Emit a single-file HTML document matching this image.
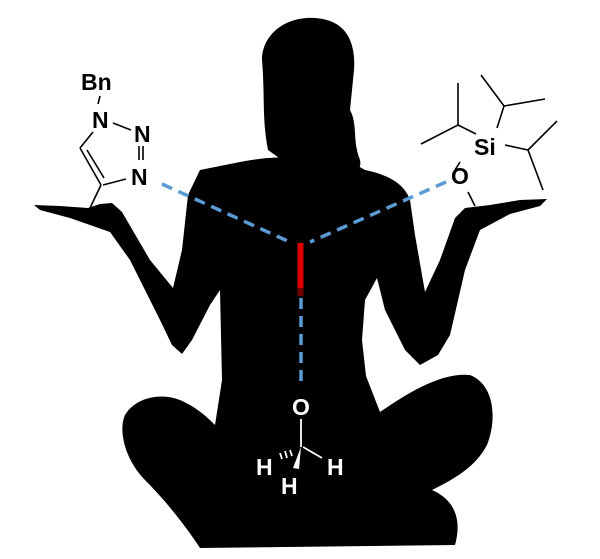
<!DOCTYPE html>
<html><head><style>html,body{margin:0;padding:0;background:#fff}svg{display:block}</style></head>
<body>
<svg width="600" height="559" viewBox="0 0 600 559" xmlns="http://www.w3.org/2000/svg">
<g fill="#000" stroke="none">
<!-- head & neck -->
<path d="M262,60 C262,35 285,16 315,18 C345,20 356,40 354,70 L350,110 C358,125 352,140 360,160 C362,170 355,175 345,170 L320,160 L282,160 L268,150 C262,120 265,95 262,60 Z"/>
<!-- body outline -->
<path d="M240,162 C270,156 285,158 300,157 C330,157 350,160 365,170 C390,175 405,185 410,200 L415,235 L425,292 L440,260 L455,218 L465,208 L490,205 L520,200 L547,199 L540,206 L510,214 L480,230 L465,270 L450,335 L438,355 L420,365 L405,350 L385,310 L377,278 L365,300 L362,340 L366,376 L380,412 C405,395 440,372 470,375 C495,385 497,420 487,445 C475,468 452,480 432,490 C455,500 462,520 455,545 L200,548 C185,525 165,500 145,480 C125,460 118,430 125,415 C135,398 160,392 180,400 C198,408 208,418 215,425 L222,380 L220,290 L210,305 L192,340 L182,354 L172,345 L160,320 L130,260 L110,232 L70,218 L40,210 L34,205 L60,206 L88,208 L100,204 L112,203 L122,212 L150,260 L173,288 L182,250 L188,195 L200,170 Z"/>
</g>
<!-- bonds -->
<g stroke="#5b9bd5" stroke-width="3.5" stroke-dasharray="11,7" fill="none">
<line x1="162" y1="184" x2="292" y2="243"/>
<line x1="446" y1="182" x2="310" y2="242"/>
<line x1="301" y1="298" x2="301" y2="382"/>
</g>
<rect x="297.5" y="243" width="6" height="45" fill="#e00000"/>
<rect x="297.5" y="288" width="6" height="8" fill="#700000"/>
<!-- left molecule -->
<g stroke="#000" stroke-width="1.6" fill="none">
<line x1="100" y1="96" x2="98" y2="104"/>
<line x1="113" y1="123" x2="131" y2="130"/>
<line x1="143" y1="146" x2="143" y2="160"/>
<line x1="139" y1="146" x2="139" y2="160"/>
<line x1="126" y1="179" x2="103" y2="185"/>
<line x1="93" y1="132" x2="80" y2="148"/>
<line x1="80" y1="148" x2="101" y2="185"/>
<line x1="87" y1="150" x2="104" y2="178"/>
<line x1="101" y1="185" x2="90" y2="208"/>
</g>
<g font-family="'Liberation Sans',sans-serif" font-weight="bold" font-size="23" fill="#000">
<text x="81" y="90">Bn</text>
<text x="92" y="128">N</text>
<text x="134" y="142">N</text>
<text x="131" y="185">N</text>
</g>
<!-- right molecule -->
<g stroke="#000" stroke-width="1.6" fill="none">
<line x1="455" y1="170" x2="460" y2="162"/>
<line x1="468" y1="192" x2="475" y2="206"/>
<line x1="476" y1="134" x2="458" y2="125"/>
<line x1="458" y1="125" x2="421" y2="144"/>
<line x1="458" y1="125" x2="458" y2="83"/>
<line x1="497" y1="128" x2="504" y2="106"/>
<line x1="504" y1="106" x2="481" y2="75"/>
<line x1="504" y1="106" x2="545" y2="99"/>
<line x1="505" y1="145" x2="528" y2="150"/>
<line x1="528" y1="150" x2="557" y2="121"/>
<line x1="528" y1="150" x2="543" y2="190"/>
</g>
<g font-family="'Liberation Sans',sans-serif" font-weight="bold" font-size="23" fill="#000">
<text x="474" y="155">Si</text>
<text x="451" y="184">O</text>
</g>
<!-- methanol -->
<g font-family="'Liberation Sans',sans-serif" font-weight="bold" font-size="23" fill="#fff">
<text x="292" y="415">O</text>
<text x="256" y="475">H</text>
<text x="327" y="475">H</text>
<text x="281" y="494">H</text>
</g>
<g stroke="#fff" stroke-width="1.8">
<line x1="301" y1="419" x2="301" y2="447"/>
<line x1="303" y1="447" x2="322" y2="458"/>
<line x1="280" y1="453" x2="282" y2="459"/>
<line x1="285" y1="451" x2="287" y2="458"/>
<line x1="290" y1="450" x2="292" y2="456"/>
</g>
<polygon points="301,447 293,468 299,469" fill="#fff"/>
</svg>
</body></html>
